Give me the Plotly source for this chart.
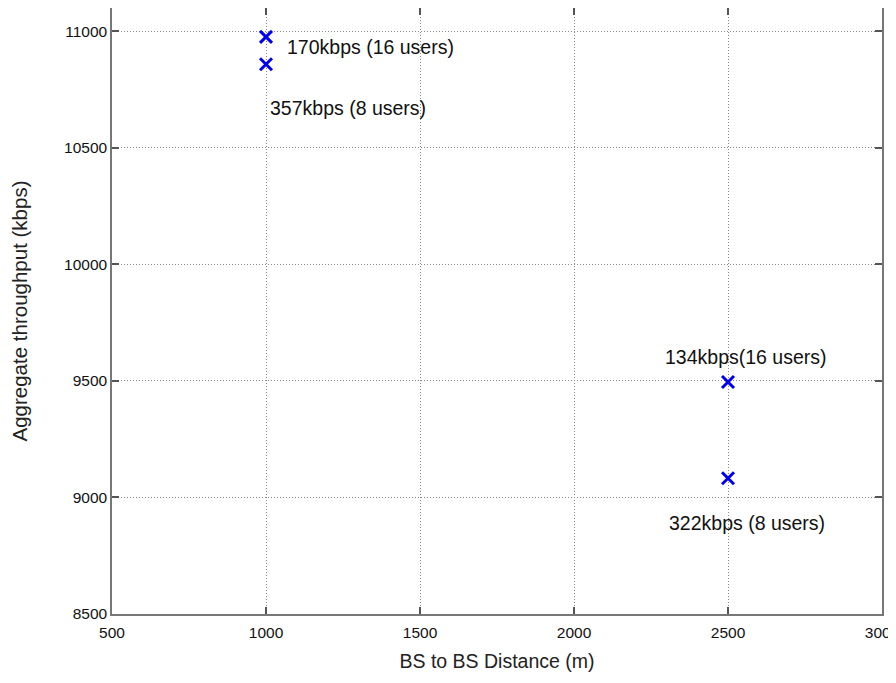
import plotly.graph_objects as go

distance = [1000, 1000, 2500, 2500]
throughput = [10975, 10858, 9495, 9082]
labels = ["170kbps (16 users)", "357kbps (8 users)", "134kbps(16 users)", "322kbps (8 users)"]
x_ticks = [500, 1000, 1500, 2000, 2500, 3000]
y_ticks = [8500, 9000, 9500, 10000, 10500, 11000]

FONT = "Liberation Sans, Arial, Helvetica"

fig = go.Figure()
fig.add_trace(go.Scatter(
    x=distance, y=throughput, mode="markers",
    marker=dict(symbol="x-thin", size=12, color="#0000ee",
                line=dict(width=3, color="#0000ee")),
    showlegend=False,
))

# label offsets (pixels) relative to each point: (dx, dy down, anchor)
offsets = [(19, 10, "left"), (2, 44, "left"), (18, -25, "center"), (19, 45, "center")]
for xv, yv, txt, (dx, dy, anc) in zip(distance, throughput, labels, offsets):
    fig.add_annotation(x=xv, y=yv, text=txt, showarrow=False, xanchor=anc,
                       yanchor="middle", xshift=dx, yshift=-dy,
                       font=dict(size=19.5, color="#111", family=FONT))

axis_common = dict(
    showline=True, linecolor="#777", linewidth=1.5, mirror="ticks",
    ticks="inside", ticklen=7, tickcolor="#555", tickwidth=1.5,
    showgrid=True, gridcolor="#888", griddash="1px,2px", gridwidth=1,
    zeroline=False, automargin=False, ticklabeloverflow="allow",
    tickfont=dict(size=15.5, color="#111", family=FONT),
)
fig.update_xaxes(range=[500, 3000], tickvals=x_ticks, ticktext=[str(v) for v in x_ticks],
                 ticklabelstandoff=4,
                 title=dict(text="BS to BS Distance (m)", standoff=14,
                            font=dict(size=19.5, color="#222", family=FONT)),
                 **axis_common)
fig.update_yaxes(range=[8500, 11099], tickvals=y_ticks, ticktext=[str(v) for v in y_ticks],
                 title=dict(text="Aggregate throughput (kbps)", standoff=60,
                            font=dict(size=20.5, color="#222", family=FONT)),
                 **axis_common)
# the page body adds an 8px offset, so the figure is 8px smaller on each axis
fig.update_layout(
    width=888, height=675,
    margin=dict(l=104, r=14, t=0, b=69),
    plot_bgcolor="white", paper_bgcolor="white",
)
fig.write_html("out.html")
